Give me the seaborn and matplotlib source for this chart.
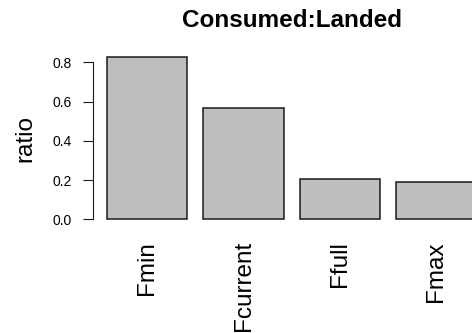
import matplotlib
matplotlib.use("Agg")
import matplotlib.pyplot as plt
import seaborn as sns
import numpy as np

# Consumed:Landed ratio under each fishing-mortality scenario
categories = ["Fmin", "Fcurrent", "Ffull", "Fmax"]
ratios = [0.83, 0.568, 0.208, 0.193]
y_ticks = [0.0, 0.2, 0.4, 0.6, 0.8]
y_tick_labels = ["0.0", "0.2", "0.4", "0.6", "0.8"]

sns.set_theme(style="white")
plt.rcParams["font.family"] = ["Liberation Sans", "DejaVu Sans"]
plt.rcParams["text.color"] = "black"
plt.rcParams["axes.labelcolor"] = "black"

fig = plt.figure(figsize=(4.72, 3.33), dpi=100)
ax = fig.add_axes([0.196, 0.3213, 0.844, 0.5283])

bar_w = 1 / 1.2
sns.barplot(x=categories, y=ratios, color="#BEBEBE", saturation=1,
            edgecolor="#1a1a1a", linewidth=1.1, width=bar_w, ax=ax)

# axis ranges padded by 4% like the classic base-graphics style
x_lo, x_hi = -bar_w / 2, len(categories) - 1 + bar_w / 2
pad_x = 0.04 * (x_hi - x_lo)
ax.set_xlim(x_lo - pad_x, x_hi + pad_x)
y_lo, y_hi = 0.0, max(ratios)
pad_y = 0.04 * (y_hi - y_lo)
ax.set_ylim(y_lo - pad_y, y_hi + pad_y)

for side in ["top", "right", "bottom"]:
    ax.spines[side].set_visible(False)
ax.spines["left"].set_bounds(y_ticks[0], y_ticks[-1])
ax.spines["left"].set_color("#1a1a1a")
ax.spines["left"].set_linewidth(0.8)

ax.set_yticks(y_ticks)
ax.set_yticklabels(y_tick_labels)
ax.tick_params(axis="y", left=True, length=7.2, width=0.8, color="#1a1a1a",
               pad=8, labelsize=10, labelcolor="black")
ax.tick_params(axis="x", bottom=False, length=0, pad=10.8, labelsize=17.5,
               labelcolor="black")
for lab in ax.get_xticklabels():
    lab.set_rotation(90)
    lab.set_ha("center")
    lab.set_va("top")

ax.set_xlabel("")
ax.set_ylabel("ratio", fontsize=17.5, labelpad=11.5, color="black")
ax.set_title("Consumed:Landed", fontsize=17.5, fontweight="bold", pad=16.5,
             color="black")

fig.savefig("out.png", dpi=100)
